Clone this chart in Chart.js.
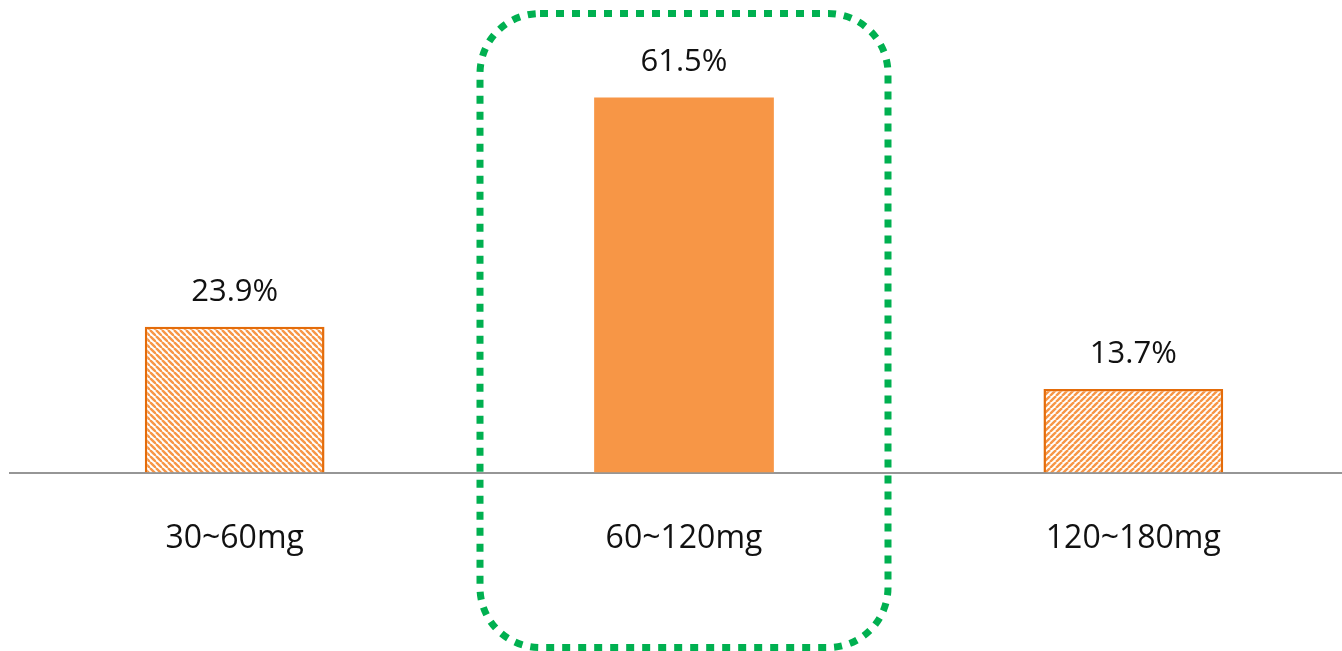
<!DOCTYPE html>
<html lang="en">

<head>
    <meta charset="UTF-8">
    <title>Dose distribution</title>
    <script src="https://cdn.jsdelivr.net/npm/chart.js@4.4.0/dist/chart.umd.min.js"></script>
    <style>
        html, body {
            margin: 0;
            padding: 0;
            background: #fff;
            overflow: hidden;
            width: 1342px;
            height: 651px;
        }
        .chart-container {
            position: relative;
            width: 1358px;
            height: 651px;
        }
    </style>
</head>

<body>
    <div class="chart-container">
        <canvas id="myChart"></canvas>
    </div>
    <script>
        // data
        var categories = ['30~60mg', '60~120mg', '120~180mg'];
        var shares = [23.9, 61.5, 13.7];
        var highlightIndex = 1;

        var FONT = "'Open Sans', 'Noto Sans', sans-serif";
        var ORANGE = '#F79646';
        var ORANGE_DARK = '#E46C0A';

        // diagonal hatch, dir 1 = "\\\", dir -1 = "///"
        function makeHatch(dir) {
            var size = 6;
            var c = document.createElement('canvas');
            c.width = size;
            c.height = size;
            var g = c.getContext('2d');
            g.fillStyle = '#fff';
            g.fillRect(0, 0, size, size);
            g.strokeStyle = ORANGE;
            g.lineWidth = 2.4;
            for (var k = -1; k <= 1; k++) {
                g.beginPath();
                if (dir > 0) {
                    g.moveTo(k * size, 0);
                    g.lineTo(k * size + size, size);
                } else {
                    g.moveTo(k * size, size);
                    g.lineTo(k * size + size, 0);
                }
                g.stroke();
            }
            return g.createPattern(c, 'repeat');
        }

        var fills = [makeHatch(1), ORANGE, makeHatch(-1)];
        var borders = [ORANGE_DARK, ORANGE, ORANGE_DARK];
        var borderWidths = [2.5, 0, 2.5];

        var valueLabels = {
            id: 'valueLabels',
            afterDatasetsDraw(chart) {
                var ctx = chart.ctx;
                var meta = chart.getDatasetMeta(0);
                ctx.save();
                ctx.font = '31px ' + FONT;
                ctx.fillStyle = '#111';
                ctx.textAlign = 'center';
                ctx.textBaseline = 'middle';
                meta.data.forEach(function (bar, i) {
                    ctx.fillText(shares[i].toFixed(1) + '%', bar.x, bar.y - 35);
                });
                ctx.restore();
            }
        };

        // green dotted rounded box around the highlighted category
        var highlightBox = {
            id: 'highlightBox',
            afterDraw(chart) {
                var ctx = chart.ctx;
                var x = chart.scales.x;
                var cx = x.getPixelForValue(highlightIndex);
                var half = (x.getPixelForValue(1) - x.getPixelForValue(0)) * 0.454;
                ctx.save();
                ctx.strokeStyle = '#00B050';
                ctx.lineWidth = 7;
                ctx.setLineDash([8, 8]);
                ctx.beginPath();
                ctx.roundRect(cx - half, 13.5, half * 2, 634, 60);
                ctx.stroke();
                ctx.restore();
            }
        };

        var ctx = document.getElementById('myChart').getContext('2d');
        var myChart = new Chart(ctx, {
            type: 'bar',
            data: {
                labels: categories,
                datasets: [{
                    data: shares,
                    backgroundColor: fills,
                    borderColor: borders,
                    borderWidth: borderWidths,
                    borderSkipped: 'bottom',
                    barPercentage: 0.4,
                    categoryPercentage: 1.0
                }]
            },
            options: {
                responsive: true,
                maintainAspectRatio: false,
                animation: false,
                layout: {
                    padding: { left: 10, right: 0, top: 0, bottom: 46 }
                },
                plugins: {
                    legend: { display: false },
                    tooltip: { enabled: false }
                },
                scales: {
                    x: {
                        grid: { display: false, drawTicks: false },
                        border: { display: true, color: '#969696', width: 2 },
                        ticks: {
                            color: '#111',
                            padding: 47,
                            font: { family: FONT, size: 32 }
                        }
                    },
                    y: {
                        display: false,
                        min: 0,
                        max: 77.5
                    }
                }
            },
            plugins: [valueLabels, highlightBox]
        });
    </script>
</body>

</html>
